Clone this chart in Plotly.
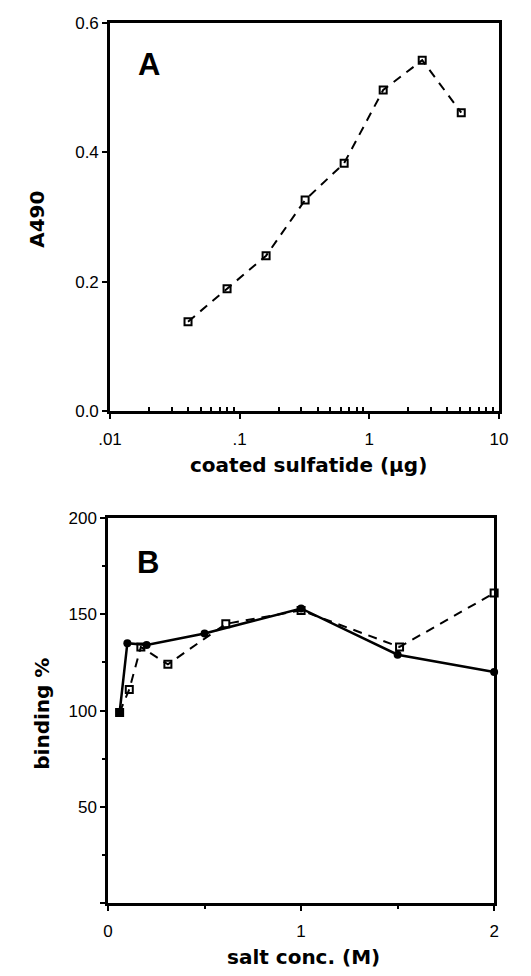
import plotly.graph_objects as go

# Panel A data
sulfatide_ug = [0.04, 0.08, 0.16, 0.32, 0.64, 1.28, 2.56, 5.12]
a490 = [0.138, 0.189, 0.240, 0.326, 0.383, 0.496, 0.542, 0.461]

# Panel B data
salt_solid = [0.06, 0.10, 0.20, 0.50, 1.00, 1.50, 2.00]
binding_solid = [99, 135, 134, 140, 153, 129, 120]
salt_dashed = [0.06, 0.11, 0.17, 0.31, 0.61, 1.00, 1.51, 2.00]
binding_dashed = [99, 111, 133, 124, 145, 152, 133, 161]

a_xticks = [0.01, 0.1, 1, 10]
a_xticktext = [".01", ".1", "1", "10"]
a_yticks = [0.0, 0.2, 0.4, 0.6]
b_xticks = [0, 1, 2]
b_yticks = [0, 50, 100, 150, 200]
b_yticktext = ["", "50", "100", "150", "200"]

TICKFONT = "Liberation Sans, Arial, Helvetica, sans-serif"
TITLEFONT = "DejaVu Sans, Verdana, sans-serif"
W, H = 531, 976

# pixel layout of plot areas
A_L, A_R, A_T, A_B = 102, 507, 14, 410
B_L, B_R, B_T, B_B = 100, 502, 519, 912

fig = go.Figure()

fig.add_trace(go.Scatter(
    x=sulfatide_ug, y=a490, mode="lines+markers", xaxis="x", yaxis="y",
    line=dict(color="black", width=2, dash="9px,7px"),
    marker=dict(symbol="square-open", size=7, color="black", line=dict(width=2)),
    showlegend=False, cliponaxis=False))

fig.add_trace(go.Scatter(
    x=salt_dashed, y=binding_dashed, mode="lines+markers", xaxis="x2", yaxis="y2",
    line=dict(color="black", width=2, dash="9px,7px"),
    marker=dict(symbol="square-open", size=7, color="black", line=dict(width=2)),
    showlegend=False, cliponaxis=False))

symbols = ["square"] + ["circle"] * (len(salt_solid) - 1)
fig.add_trace(go.Scatter(
    x=salt_solid, y=binding_solid, mode="lines+markers", xaxis="x2", yaxis="y2",
    line=dict(color="black", width=2.5),
    marker=dict(symbol=symbols, size=8, color="black"),
    showlegend=False, cliponaxis=False))

axis_common = dict(showline=True, linecolor="black", linewidth=2.5, mirror=True,
                   showgrid=False, zeroline=False, ticks="outside", tickcolor="black",
                   tickwidth=2, ticklen=5,
                   tickfont=dict(family=TICKFONT, size=17, color="black"))

pxX = lambda p: p / W
pxY = lambda p: 1 - p / H

fig.update_layout(
    width=W, height=H, margin=dict(l=0, r=0, t=0, b=0),
    paper_bgcolor="white", plot_bgcolor="white",
    xaxis=dict(domain=[pxX(A_L), pxX(A_R)], anchor="y", type="log", range=[-2, 1],
               tickvals=a_xticks, ticktext=a_xticktext, ticklabelstandoff=6,
               minor=dict(ticks="inside", ticklen=4, tickcolor="black", tickwidth=2,
                          tickvals=[m * 10 ** e for e in (-2, -1, 0) for m in range(2, 10)]),
               **axis_common),
    yaxis=dict(domain=[pxY(A_B), pxY(A_T)], anchor="x", range=[0, 0.6],
               tickvals=a_yticks, tickformat=".1f", ticklabelstandoff=0, **axis_common),
    xaxis2=dict(domain=[pxX(B_L), pxX(B_R)], anchor="y2", range=[0, 2],
                tickvals=b_xticks, ticklabelstandoff=6,
                minor=dict(ticks="outside", ticklen=3, tickcolor="black", tickwidth=2,
                           tickvals=[0.5, 1.5]),
                **axis_common),
    yaxis2=dict(domain=[pxY(B_B), pxY(B_T)], anchor="x2", range=[0, 200],
                tickvals=b_yticks, ticktext=b_yticktext, ticklabelstandoff=0,
                minor=dict(ticks="outside", ticklen=3, tickcolor="black", tickwidth=2,
                           tickvals=[25, 75, 125, 175]),
                **axis_common),
)

def ann(text, x, y, size, family, angle=0):
    fig.add_annotation(text=text, x=pxX(x), y=pxY(y), xref="paper", yref="paper",
                       showarrow=False, textangle=angle, xanchor="center", yanchor="middle",
                       font=dict(family=family, size=size, color="black"))

ann("<b>A490</b>", 26, 214, 20, TITLEFONT, -90)
ann("<b>coated sulfatide (µg)</b>", 309, 465, 20, TITLEFONT)
ann("<b>binding %</b>", 31, 719, 20, TITLEFONT, -90)
ann("<b>salt conc. (M)</b>", 303, 967, 20, TITLEFONT)
ann("<b>A</b>", 143, 57, 31, TICKFONT)
ann("<b>B</b>", 142, 564, 31, TICKFONT)

fig.write_html("out.html")
